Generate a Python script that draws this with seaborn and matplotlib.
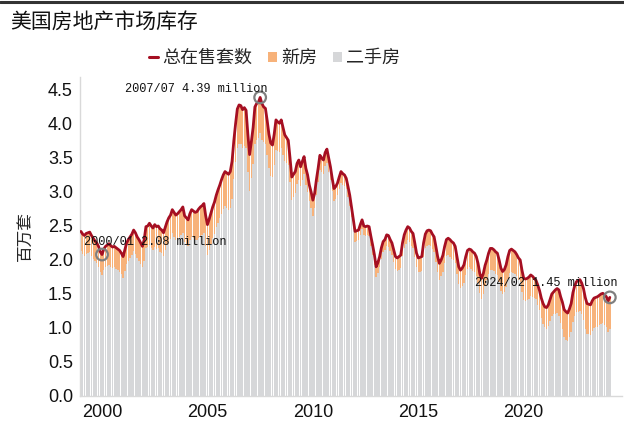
import numpy as np
import pandas as pd
import matplotlib
matplotlib.use("Agg")
import matplotlib.pyplot as plt
from matplotlib.lines import Line2D
from matplotlib.patches import Patch
import seaborn as sns

# ---------------- data (millions of units), monthly 1999/01 - 2024/02 ----------------
total_by_year = {
    1999: [2.42, 2.38, 2.36, 2.39, 2.40, 2.41, 2.36, 2.32, 2.28, 2.25, 2.20, 2.12],
    2000: [2.08, 2.16, 2.20, 2.22, 2.24, 2.21, 2.19, 2.20, 2.18, 2.16, 2.14, 2.10],
    2001: [2.05, 2.15, 2.25, 2.30, 2.34, 2.38, 2.44, 2.40, 2.34, 2.30, 2.25, 2.20],
    2002: [2.30, 2.49, 2.50, 2.54, 2.50, 2.47, 2.52, 2.49, 2.50, 2.46, 2.44, 2.40],
    2003: [2.48, 2.56, 2.62, 2.66, 2.74, 2.70, 2.66, 2.68, 2.71, 2.74, 2.78, 2.65],
    2004: [2.62, 2.59, 2.68, 2.74, 2.72, 2.70, 2.71, 2.75, 2.78, 2.80, 2.83, 2.65],
    2005: [2.52, 2.60, 2.69, 2.78, 2.85, 2.95, 3.03, 3.10, 3.18, 3.25, 3.30, 3.28],
    2006: [3.26, 3.30, 3.45, 3.75, 4.00, 4.22, 4.28, 4.27, 4.21, 4.24, 4.20, 3.85],
    2007: [3.55, 3.74, 3.95, 4.25, 4.30, 4.32, 4.39, 4.30, 4.25, 4.23, 4.05, 3.85],
    2008: [3.72, 3.69, 3.85, 4.06, 4.03, 4.01, 4.06, 3.95, 3.84, 3.80, 3.76, 3.50],
    2009: [3.22, 3.26, 3.30, 3.42, 3.47, 3.37, 3.45, 3.52, 3.35, 3.25, 3.10, 3.00],
    2010: [2.88, 2.98, 3.18, 3.35, 3.54, 3.50, 3.47, 3.58, 3.63, 3.50, 3.37, 3.20],
    2011: [3.05, 3.08, 3.13, 3.22, 3.30, 3.27, 3.25, 3.20, 3.08, 2.95, 2.78, 2.60],
    2012: [2.42, 2.43, 2.44, 2.52, 2.59, 2.50, 2.49, 2.50, 2.49, 2.35, 2.22, 2.08],
    2013: [1.90, 1.96, 2.05, 2.18, 2.27, 2.30, 2.37, 2.36, 2.30, 2.25, 2.15, 2.05],
    2014: [2.03, 2.05, 2.07, 2.25, 2.37, 2.44, 2.49, 2.47, 2.42, 2.39, 2.25, 2.10],
    2015: [2.03, 2.04, 2.05, 2.25, 2.38, 2.43, 2.44, 2.43, 2.38, 2.34, 2.20, 2.05],
    2016: [1.95, 2.00, 2.07, 2.20, 2.30, 2.32, 2.30, 2.27, 2.25, 2.20, 2.05, 1.90],
    2017: [1.85, 1.88, 1.93, 2.05, 2.14, 2.16, 2.15, 2.12, 2.10, 2.05, 1.95, 1.80],
    2018: [1.73, 1.80, 1.92, 2.00, 2.10, 2.17, 2.17, 2.15, 2.12, 2.10, 2.00, 1.88],
    2019: [1.83, 1.86, 1.93, 2.05, 2.14, 2.16, 2.14, 2.12, 2.08, 2.03, 2.00, 1.85],
    2020: [1.73, 1.72, 1.73, 1.75, 1.78, 1.76, 1.73, 1.70, 1.63, 1.55, 1.44, 1.36],
    2021: [1.31, 1.30, 1.34, 1.42, 1.50, 1.53, 1.56, 1.58, 1.56, 1.46, 1.38, 1.27],
    2022: [1.24, 1.22, 1.28, 1.36, 1.52, 1.62, 1.68, 1.70, 1.71, 1.66, 1.58, 1.45],
    2023: [1.36, 1.35, 1.34, 1.40, 1.44, 1.45, 1.46, 1.48, 1.50, 1.51, 1.49, 1.46],
    2024: [1.40, 1.45],
}
new_by_year = {
    1999: [0.29, 0.29, 0.30, 0.30, 0.30, 0.30, 0.30, 0.30, 0.30, 0.30, 0.30, 0.30],
    2000: [0.30, 0.30, 0.30, 0.31, 0.31, 0.31, 0.31, 0.31, 0.31, 0.31, 0.31, 0.31],
    2001: [0.31, 0.31, 0.31, 0.31, 0.31, 0.31, 0.31, 0.31, 0.31, 0.31, 0.31, 0.30],
    2002: [0.31, 0.31, 0.31, 0.32, 0.32, 0.32, 0.33, 0.33, 0.33, 0.34, 0.34, 0.34],
    2003: [0.34, 0.34, 0.35, 0.35, 0.35, 0.36, 0.36, 0.37, 0.37, 0.38, 0.38, 0.38],
    2004: [0.38, 0.39, 0.39, 0.40, 0.40, 0.41, 0.42, 0.42, 0.43, 0.43, 0.44, 0.44],
    2005: [0.44, 0.45, 0.45, 0.46, 0.47, 0.47, 0.48, 0.49, 0.50, 0.50, 0.51, 0.52],
    2006: [0.53, 0.54, 0.55, 0.56, 0.56, 0.57, 0.57, 0.57, 0.56, 0.56, 0.55, 0.55],
    2007: [0.54, 0.54, 0.54, 0.54, 0.54, 0.53, 0.53, 0.53, 0.52, 0.52, 0.51, 0.50],
    2008: [0.49, 0.47, 0.46, 0.45, 0.43, 0.42, 0.41, 0.40, 0.39, 0.37, 0.36, 0.35],
    2009: [0.34, 0.33, 0.31, 0.30, 0.29, 0.28, 0.27, 0.26, 0.25, 0.25, 0.24, 0.23],
    2010: [0.23, 0.22, 0.22, 0.21, 0.21, 0.21, 0.21, 0.20, 0.20, 0.20, 0.19, 0.19],
    2011: [0.18, 0.18, 0.18, 0.17, 0.17, 0.17, 0.16, 0.16, 0.16, 0.16, 0.15, 0.15],
    2012: [0.15, 0.15, 0.15, 0.15, 0.14, 0.14, 0.14, 0.14, 0.14, 0.15, 0.15, 0.15],
    2013: [0.15, 0.15, 0.15, 0.16, 0.16, 0.16, 0.17, 0.17, 0.17, 0.18, 0.18, 0.18],
    2014: [0.19, 0.19, 0.19, 0.19, 0.20, 0.20, 0.20, 0.21, 0.21, 0.21, 0.21, 0.21],
    2015: [0.21, 0.21, 0.21, 0.21, 0.21, 0.22, 0.22, 0.22, 0.22, 0.23, 0.23, 0.23],
    2016: [0.24, 0.24, 0.24, 0.24, 0.24, 0.25, 0.25, 0.25, 0.25, 0.25, 0.26, 0.26],
    2017: [0.26, 0.26, 0.27, 0.27, 0.27, 0.27, 0.28, 0.28, 0.28, 0.28, 0.29, 0.29],
    2018: [0.30, 0.30, 0.30, 0.30, 0.30, 0.31, 0.31, 0.31, 0.32, 0.32, 0.33, 0.33],
    2019: [0.33, 0.33, 0.33, 0.33, 0.33, 0.33, 0.33, 0.33, 0.32, 0.32, 0.32, 0.32],
    2020: [0.32, 0.32, 0.32, 0.32, 0.31, 0.30, 0.29, 0.28, 0.29, 0.29, 0.30, 0.30],
    2021: [0.30, 0.31, 0.31, 0.31, 0.32, 0.33, 0.35, 0.36, 0.38, 0.39, 0.40, 0.40],
    2022: [0.41, 0.41, 0.41, 0.42, 0.43, 0.44, 0.45, 0.46, 0.46, 0.46, 0.46, 0.46],
    2023: [0.45, 0.44, 0.44, 0.44, 0.44, 0.44, 0.44, 0.44, 0.44, 0.44, 0.44, 0.45],
    2024: [0.46, 0.46],
}
years = list(total_by_year.keys())
total = [v for y in years for v in total_by_year[y]]
new_homes = [v for y in years for v in new_by_year[y]]
existing = [round(t - n, 3) for t, n in zip(total, new_homes)]
dates = [f"{y}/{m:02d}" for y in years for m in range(1, len(total_by_year[y]) + 1)]

tick_years = [2000, 2005, 2010, 2015, 2020]
annotations = [("2000/01", 2.08), ("2007/07", 4.39), ("2024/02", 1.45)]

title = "美国房地产市场库存"
ylabel = "百万套"
legend_labels = ["总在售套数", "新房", "二手房"]

# ---------------- plot ----------------
df = pd.DataFrame({"date": dates, "total": total, "new": new_homes, "existing": existing})
df["idx"] = np.arange(len(df))

sns.set_theme(style="white")
plt.rcParams["font.family"] = ["Liberation Sans", "Noto Sans CJK SC", "DejaVu Sans"]

C_LINE = "#A50F22"
C_NEW = "#F7B27A"
C_OLD = "#D6D7D9"

fig = plt.figure(figsize=(6.24, 4.21), dpi=100)
ax = fig.add_axes([0.128, 0.0594, 0.869, 0.7576])

# stacked bars: orange drawn to the total, grey (existing) drawn over the bottom part
sns.barplot(data=df, x="idx", y="total", native_scale=True, color=C_NEW,
            saturation=1, width=0.78, linewidth=0, ax=ax)
sns.barplot(data=df, x="idx", y="existing", native_scale=True, color=C_OLD,
            saturation=1, width=0.78, linewidth=0, ax=ax)
sns.lineplot(data=df, x="idx", y="total", color=C_LINE, lw=2.0, ax=ax, zorder=5)

# annotations
pos = {d: i for i, d in enumerate(dates)}
text_off = {"2000/01": (-10.5, 0.18), "2007/07": (-77, 0.12), "2024/02": (-77, 0.21)}
for d, v in annotations:
    i = pos[d]
    ax.scatter([i], [v], s=70, facecolors="none", edgecolors="#7F7F7F", linewidths=1.6, zorder=6)
    dx, dy = text_off[d]
    ax.text(i + dx, v + dy, f"{d} {v:.2f} million", family="Liberation Mono",
            fontsize=8.6, color="#111111", va="center", ha="left", zorder=7)

ax.set_xlim(-0.6, 308)
ax.set_ylim(0, 4.69)
ax.set_yticks(np.arange(0, 4.51, 0.5))
ax.set_yticklabels([f"{t:.1f}" for t in np.arange(0, 4.51, 0.5)], fontsize=13)
ax.set_xticks([pos[f"{y}/01"] for y in tick_years])
ax.set_xticklabels([str(y) for y in tick_years], fontsize=13)
ax.set_xlabel("")
ax.set_ylabel(ylabel, fontsize=12, family=["Noto Sans CJK SC"], labelpad=10)
for s in ["top", "right"]:
    ax.spines[s].set_visible(False)
for s in ["left", "bottom"]:
    ax.spines[s].set_color("#D9D9D9")
    ax.spines[s].set_linewidth(1.0)
ax.tick_params(axis="both", which="major", length=3, width=1, color="#AAAAAA",
               colors="#111111", pad=2)
ax.tick_params(axis="x", pad=3)
for lab in ax.get_xticklabels() + ax.get_yticklabels():
    lab.set_color("#111111")

# legend
handles = [Line2D([0], [0], color=C_LINE, lw=2.2),
           Patch(facecolor=C_NEW, edgecolor="none"),
           Patch(facecolor=C_OLD, edgecolor="none")]
fig.legend(handles, legend_labels, loc="center", bbox_to_anchor=(0.44, 0.862), ncol=3,
           frameon=False, handlelength=0.5, handleheight=0.5, handletextpad=0.2,
           columnspacing=0.9, prop={"family": "Noto Sans CJK SC", "size": 13})

# title and top rule
fig.text(0.016, 0.948, title, fontsize=15, family=["Noto Sans CJK SC"], color="#111111",
         ha="left", va="center")
fig.add_artist(Line2D([0, 1], [0.996, 0.996], transform=fig.transFigure, color="#333333", lw=2.2))

fig.savefig("out.png", dpi=100)
